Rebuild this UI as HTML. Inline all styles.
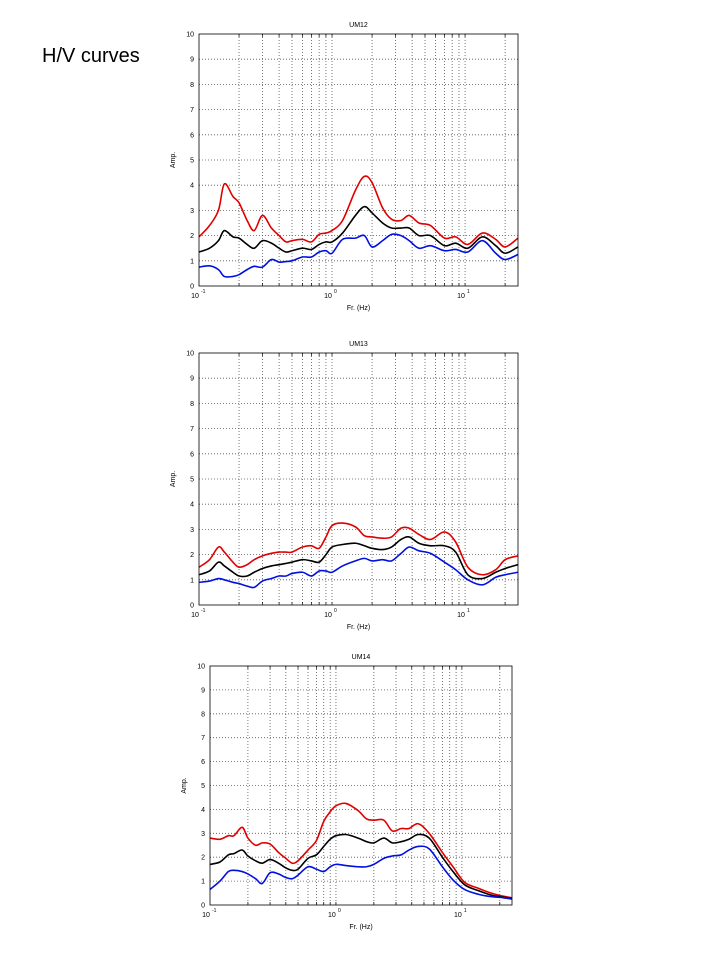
<!DOCTYPE html>
<html><head><meta charset="utf-8"><style>
body{margin:0;background:#fff;}
svg{display:block;font-family:"Liberation Sans",sans-serif;}
</style></head><body>
<svg id="s" width="720" height="960">
<text x="42" y="62" font-size="20">H/V curves</text>
</svg>
<script>
const freqs = [0.1,0.12,0.14,0.155,0.18,0.2,0.23,0.26,0.3,0.35,0.4,0.45,0.5,0.6,0.7,0.8,0.9,1.0,1.2,1.5,1.75,2.0,2.4,2.8,3.3,3.8,4.5,5.5,7,8.5,10.5,13.5,17,20,25];
const um12Red = [1.95,2.4,3.0,4.05,3.55,3.3,2.6,2.2,2.8,2.3,2.0,1.75,1.8,1.85,1.75,2.05,2.1,2.2,2.6,3.8,4.35,4.1,3.1,2.65,2.6,2.8,2.5,2.4,1.9,1.95,1.65,2.1,1.85,1.55,1.9];
const um12Black = [1.35,1.5,1.8,2.2,1.95,1.9,1.65,1.5,1.8,1.7,1.5,1.35,1.4,1.5,1.45,1.65,1.75,1.75,2.1,2.8,3.15,2.9,2.5,2.3,2.3,2.3,2.0,2.0,1.6,1.7,1.5,1.95,1.6,1.3,1.55];
const um12Blue = [0.75,0.8,0.65,0.38,0.38,0.45,0.65,0.78,0.75,1.05,0.95,0.97,1.0,1.15,1.15,1.35,1.4,1.3,1.85,1.9,2.0,1.55,1.8,2.05,2.0,1.8,1.5,1.6,1.4,1.45,1.35,1.8,1.3,1.05,1.25];
const um13Red = [1.5,1.8,2.3,2.1,1.7,1.5,1.6,1.8,1.95,2.05,2.1,2.1,2.1,2.3,2.35,2.25,2.7,3.15,3.25,3.1,2.75,2.7,2.65,2.7,3.05,3.05,2.8,2.6,2.9,2.5,1.5,1.2,1.4,1.8,1.95];
const um13Black = [1.2,1.35,1.7,1.55,1.3,1.15,1.15,1.3,1.45,1.55,1.6,1.65,1.7,1.8,1.75,1.7,2.0,2.3,2.4,2.45,2.35,2.25,2.2,2.3,2.6,2.7,2.45,2.35,2.35,2.1,1.2,1.05,1.3,1.45,1.6];
const um13Blue = [0.9,0.95,1.05,1.0,0.9,0.85,0.75,0.7,0.95,1.05,1.15,1.15,1.25,1.3,1.15,1.35,1.35,1.3,1.55,1.75,1.85,1.75,1.8,1.75,2.05,2.3,2.15,2.05,1.7,1.4,1.0,0.8,1.1,1.2,1.3];
const um14Red = [2.8,2.75,2.9,2.9,3.25,2.8,2.5,2.6,2.55,2.2,1.95,1.75,1.85,2.3,2.7,3.5,3.9,4.15,4.25,3.95,3.6,3.55,3.55,3.1,3.2,3.2,3.4,3.0,2.2,1.6,0.95,0.7,0.5,0.4,0.3];
const um14Black = [1.7,1.8,2.1,2.15,2.3,2.05,1.85,1.75,1.9,1.75,1.55,1.45,1.5,1.95,2.1,2.45,2.75,2.9,2.95,2.8,2.65,2.6,2.8,2.6,2.65,2.75,2.95,2.8,2.0,1.4,0.85,0.6,0.42,0.35,0.28];
const um14Blue = [0.65,1.0,1.4,1.45,1.4,1.3,1.1,0.9,1.35,1.3,1.15,1.1,1.25,1.6,1.5,1.4,1.6,1.7,1.65,1.6,1.6,1.7,1.95,2.05,2.1,2.3,2.45,2.35,1.6,1.05,0.65,0.45,0.35,0.32,0.25];
const yTicks = [0,1,2,3,4,5,6,7,8,9,10];
const xDecades = [-1,0,1];
const minorFreqs = [0.2,0.3,0.4,0.5,0.6,0.7,0.8,0.9,1,2,3,4,5,6,7,8,9,10,20];

const NS="http://www.w3.org/2000/svg";
const svg=document.getElementById('s');
function mk(tag,attrs,parent){const e=document.createElementNS(NS,tag);for(const k in attrs)e.setAttribute(k,attrs[k]);(parent||svg).appendChild(e);return e;}

const panels=[
 {name:'UM12',l:199,r:518,t:34,b:286,series:[um12Red,um12Black,um12Blue]},
 {name:'UM13',l:199,r:518,t:353,b:605,series:[um13Red,um13Black,um13Blue]},
 {name:'UM14',l:210,r:512,t:666,b:905,series:[um14Red,um14Black,um14Blue]}
];
const colors=['#e00000','#000000','#0010e0'];
const sNames=['red-curve','black-curve','blue-curve'];
const xmin=Math.log10(0.1), xmax=Math.log10(25);

panels.forEach(p=>{
 const g=mk('g',{});
 
 
 const X=f=>p.l+(Math.log10(f)-xmin)/(xmax-xmin)*(p.r-p.l);
 const Y=v=>p.b-v/10*(p.b-p.t);
 mk('rect',{x:p.l,y:p.t,width:p.r-p.l,height:p.b-p.t,fill:'#fff'},g);
 minorFreqs.forEach(f=>{const x=X(f);
  const ln=mk('line',{x1:x,x2:x,y1:p.t,y2:p.b,stroke:'#555','stroke-width':0.8,'stroke-dasharray':'1,2'},g);
  
  mk('line',{x1:x,x2:x,y1:p.b,y2:p.b-3,stroke:'#000','stroke-width':0.7},g);
  mk('line',{x1:x,x2:x,y1:p.t,y2:p.t+3,stroke:'#000','stroke-width':0.7},g);
 });
 yTicks.forEach(v=>{const y=Y(v);
  if(v>0&&v<10){const ln=mk('line',{x1:p.l,x2:p.r,y1:y,y2:y,stroke:'#555','stroke-width':0.8,'stroke-dasharray':'1,2'},g);
   }
  const t=mk('text',{x:p.l-5,y:y+2.5,'font-size':7,'text-anchor':'end'},g);t.textContent=v;
  
 });
 xDecades.forEach(d=>{const x=X(Math.pow(10,d));
  const t=mk('text',{x:x-4,y:p.b+12,'font-size':7,'text-anchor':'middle'},g);t.textContent='10';
  
  const s=mk('text',{x:x+2,y:p.b+7,'font-size':5},g);s.textContent=String(d);
  
 });
 p.series.forEach((vals,i)=>{
  const pts=freqs.map((f,k)=>[X(f),Y(vals[k])]);
  let d='M'+pts[0][0]+','+pts[0][1];
  for(let k=0;k<pts.length-1;k++){
   const p0=pts[k-1]||pts[k],p1=pts[k],p2=pts[k+1],p3=pts[k+2]||p2;
   const c1=[p1[0]+(p2[0]-p0[0])/6,p1[1]+(p2[1]-p0[1])/6];
   const c2=[p2[0]-(p3[0]-p1[0])/6,p2[1]-(p3[1]-p1[1])/6];
   d+=' C'+c1+' '+c2+' '+p2;
  }
  const path=mk('path',{d:d,fill:'none',stroke:colors[i],'stroke-width':1.6},g);
  
 });
 mk('rect',{x:p.l,y:p.t,width:p.r-p.l,height:p.b-p.t,fill:'none',stroke:'#000','stroke-width':0.8},g);
 const tt=mk('text',{x:(p.l+p.r)/2,y:p.t-7,'font-size':7,'text-anchor':'middle'},g);tt.textContent=p.name;
 
 const xl=mk('text',{x:(p.l+p.r)/2,y:p.b+24,'font-size':7,'text-anchor':'middle'},g);xl.textContent='Fr. (Hz)';
 
 const ym=(p.t+p.b)/2, yx=p.l-24;
 const yl=mk('text',{x:yx,y:ym,'font-size':7,'text-anchor':'middle',transform:'rotate(-90 '+yx+' '+ym+')'},g);yl.textContent='Amp.';
 
});
</script>
</body></html>
